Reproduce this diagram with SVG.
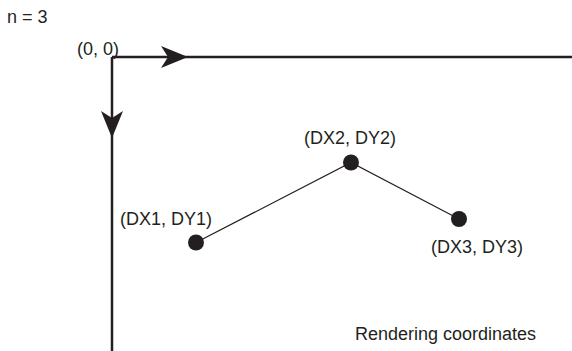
<svg xmlns="http://www.w3.org/2000/svg" width="572" height="351" viewBox="0 0 572 351">
<style>
text{font-family:"Liberation Sans",Arial,sans-serif;font-size:18px;fill:#231f20}
.axis{stroke:#231f20;stroke-width:2.5;fill:none}
.seg{stroke:#231f20;stroke-width:1.2;fill:none}
.pt{fill:#231f20}
.head{fill:#231f20}
</style>
<rect width="572" height="351" fill="#fff"/>
<text id="label-n" x="7" y="23">n = 3</text>
<g id="axes">
<path class="axis" d="M112,57 H572"/>
<path class="axis" d="M112,57 V351"/>
<path class="head" d="M188,57 L161,46 L168,57 L161,68 Z"/>
<path class="head" d="M112,138 L101,111 L112,118 L123,111 Z"/>
</g>
<g id="origin"><text x="77" y="55">(0, 0)</text></g>
<g id="connectors">
<path class="seg" d="M196,242.5 L351,162.5 L459,219"/>
</g>
<g id="p1"><circle class="pt" cx="196" cy="242.5" r="8"/><text x="120" y="225">(DX1, DY1)</text></g>
<g id="p2"><circle class="pt" cx="351" cy="162.5" r="8"/><text x="304" y="144">(DX2, DY2)</text></g>
<g id="p3"><circle class="pt" cx="459" cy="219" r="8"/><text x="431" y="253">(DX3, DY3)</text></g>
<text id="caption" x="355" y="340">Rendering coordinates</text>
</svg>
